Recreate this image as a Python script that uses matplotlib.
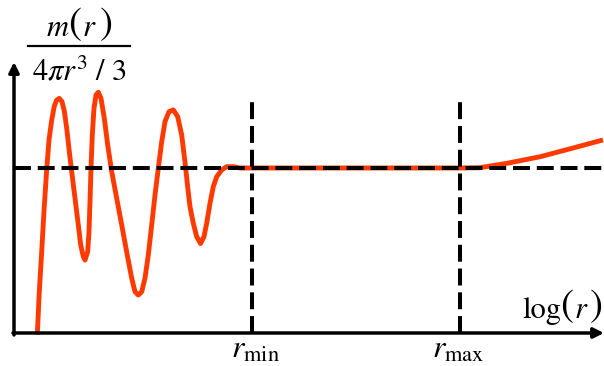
import numpy as np
import matplotlib.pyplot as plt

plt.rcParams['mathtext.fontset'] = 'stix'
plt.rcParams['font.family'] = 'STIXGeneral'

# mass profile m(r)/(4 pi r^3/3) against log(r), flat level = 1
logr = [0.233, 0.253, 0.277, 0.300, 0.327, 0.350, 0.377, 0.403, 0.427, 0.453,
        0.480, 0.503, 0.527, 0.553, 0.577, 0.610, 0.643, 0.667, 0.693, 0.710,
        0.737, 0.750, 0.760, 0.770, 0.783, 0.800, 0.820, 0.843, 0.870, 0.903,
        0.937, 0.977, 1.027, 1.077, 1.127, 1.177, 1.210, 1.243, 1.277, 1.310,
        1.343, 1.377, 1.410, 1.443, 1.477, 1.510, 1.550, 1.593, 1.637, 1.677,
        1.710, 1.740, 1.760, 1.793, 1.827, 1.865, 1.900, 1.927, 1.960, 1.993,
        2.027, 2.077, 2.127, 2.193, 2.260, 2.360, 3.360, 4.460, 4.660, 4.927,
        5.260, 5.590, 5.890]
ratio = [-0.01, 0.250, 0.493, 0.740, 0.990, 1.170, 1.290, 1.375, 1.412, 1.422,
         1.402, 1.345, 1.241, 1.099, 0.978, 0.816, 0.655, 0.533, 0.462, 0.442,
         0.493, 0.614, 0.796, 0.998, 1.200, 1.362, 1.442, 1.459, 1.422, 1.301,
         1.139, 0.978, 0.816, 0.655, 0.491, 0.332, 0.250, 0.230, 0.250, 0.332,
         0.473, 0.655, 0.836, 0.998, 1.159, 1.281, 1.341, 1.352, 1.311, 1.200,
         1.036, 0.867, 0.765, 0.665, 0.584, 0.542, 0.584, 0.665, 0.786, 0.887,
         0.947, 0.988, 1.008, 1.008, 1.000, 1.000, 1.000, 1.000, 1.002, 1.028,
         1.068, 1.121, 1.170]

level = 1.0
r_min = 2.38
r_max = 4.46
x_end = 5.90
y_top = 1.642
vline_top = 1.412

fig = plt.figure(figsize=(6.04, 3.66), dpi=100)
ax = fig.add_axes([0, 0, 1, 1])
ax.set_xlim(-0.14, 5.90)
ax.set_ylim(-0.2, 2.018)
ax.axis('off')

red = '#ff3a00'
ax.plot(logr, ratio, color=red, lw=3.5, solid_joinstyle='round',
        solid_capstyle='butt', zorder=2)

dash = dict(color='black', lw=2.9, dashes=(4.2, 1.7), dash_capstyle='butt', zorder=3)
ax.plot([0, x_end], [level, level], **dash)
for xv in (r_min, r_max):
    ax.plot([xv, xv], [0, vline_top], **dash)

# axes with arrow heads
arrow = dict(arrowstyle='-|>,head_length=0.6,head_width=0.3', color='black',
             lw=2.5, shrinkA=0, shrinkB=0)
ax.annotate('', xy=(0, y_top), xytext=(0, -0.012), arrowprops=arrow, zorder=4)
ax.annotate('', xy=(x_end, 0), xytext=(-0.01, 0), arrowprops=arrow, zorder=4)


def put(x, y, s, size=22, style='normal'):
    ax.text(x, y, s, fontsize=size, fontstyle=style, ha='left', va='baseline')


# y label: m(r) over 4 pi r^3 / 3, with tall brackets
put(0.33, 1.80, 'm', style='italic')
put(0.54, 1.81, '(', size=28)
put(0.69, 1.80, 'r', style='italic')
put(0.86, 1.81, ')', size=28)
ax.plot([0.14, 1.16], [1.739, 1.739], color='black', lw=1.6)
ax.text(0.65, 1.533, r'$4\pi r^3\ /\ 3$', fontsize=22, ha='center', va='baseline')

# x label: log(r)
put(5.08, 0.09, 'log')
put(5.46, 0.10, '(', size=28)
put(5.61, 0.09, 'r', style='italic')
put(5.76, 0.10, ')', size=28)

ax.text(r_min + 0.03, -0.152, r'$r_{\min}$', fontsize=23, ha='center', va='baseline')
ax.text(r_max - 0.02, -0.152, r'$r_{\max}$', fontsize=23, ha='center', va='baseline')

fig.savefig('out.png', dpi=100)
